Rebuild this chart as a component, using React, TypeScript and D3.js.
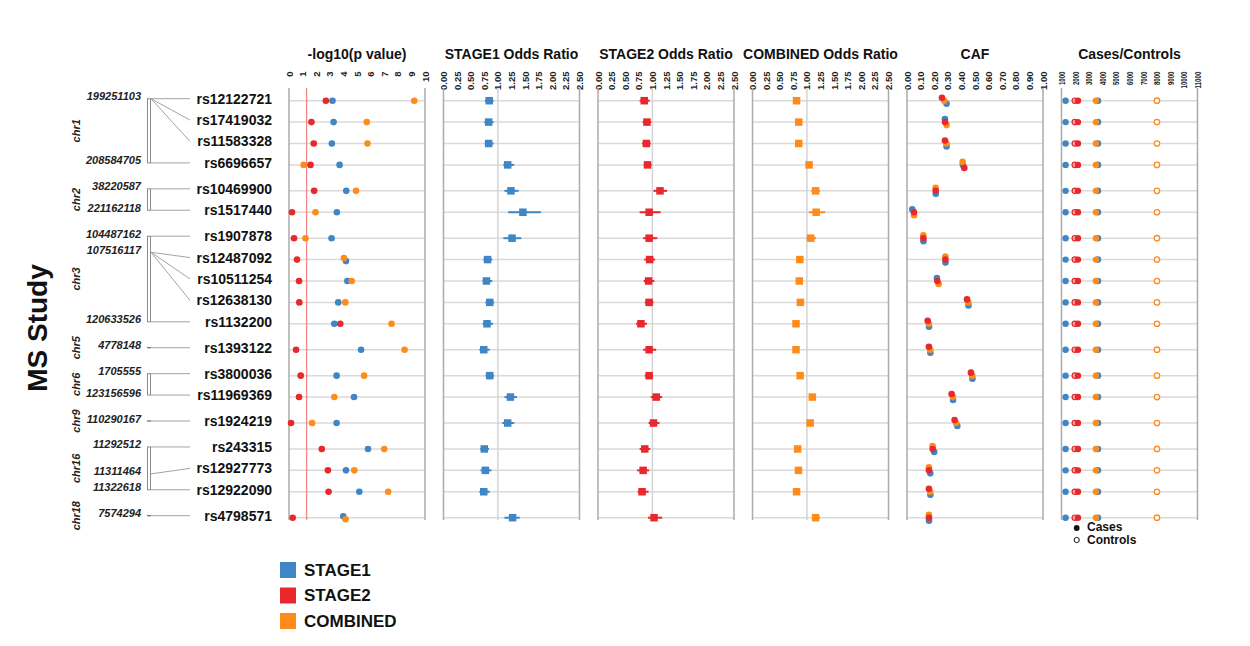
import React from 'react';
import * as d3 from 'd3';

// ---------- DATA ----------
const snps = ['rs12122721','rs17419032','rs11583328','rs6696657','rs10469900','rs1517440','rs1907878','rs12487092','rs10511254','rs12638130','rs1132200','rs1393122','rs3800036','rs11969369','rs1924219','rs243315','rs12927773','rs12922090','rs4798571'];
const chroms = ['chr1','chr1','chr1','chr1','chr2','chr2','chr3','chr3','chr3','chr3','chr3','chr5','chr6','chr6','chr9','chr16','chr16','chr16','chr18'];
// null = shares the previous labelled position (no label of its own)
const positions: (number | null)[] = [199251103, null, null, 208584705, 38220587, 221162118, 104487162, 107516117, null, null, 120633526, 4778148, 1705555, 123156596, 110290167, 11292512, 11311464, 11322618, 7574294];

const pStage1 = [3.2, 3.28, 3.15, 3.72, 4.21, 3.52, 3.13, 4.19, 4.29, 3.62, 3.33, 5.3, 3.5, 4.78, 3.5, 5.81, 4.19, 5.17, 3.99];
const pStage2 = [2.71, 1.65, 1.82, 1.58, 1.85, 0.22, 0.37, 0.59, 0.74, 0.76, 3.77, 0.52, 0.86, 0.74, 0.15, 2.41, 2.86, 2.91, 0.27];
const pCombined = [9.21, 5.72, 5.77, 1.08, 4.93, 1.95, 1.21, 4.04, 4.61, 4.14, 7.54, 8.5, 5.52, 3.33, 1.7, 7.0, 4.8, 7.29, 4.16];

const orStage1 = [0.84, 0.83, 0.83, 1.18, 1.24, 1.46, 1.26, 0.81, 0.79, 0.85, 0.80, 0.74, 0.85, 1.23, 1.18, 0.75, 0.77, 0.74, 1.27];
const loStage1 = [0.76, 0.75, 0.76, 1.10, 1.12, 1.19, 1.10, 0.735, 0.72, 0.77, 0.72, 0.66, 0.77, 1.12, 1.08, 0.675, 0.68, 0.66, 1.12];
const hiStage1 = [0.92, 0.92, 0.92, 1.30, 1.38, 1.79, 1.43, 0.895, 0.895, 0.93, 0.91, 0.85, 0.93, 1.35, 1.30, 0.835, 0.88, 0.85, 1.40];

const orStage2 = [0.85, 0.90, 0.89, 0.91, 1.14, 0.94, 0.94, 0.95, 0.93, 0.94, 0.79, 0.94, 0.94, 1.07, 1.02, 0.86, 0.83, 0.81, 1.03];
const loStage2 = [0.765, 0.82, 0.81, 0.84, 1.02, 0.765, 0.83, 0.85, 0.84, 0.86, 0.70, 0.83, 0.86, 0.97, 0.93, 0.765, 0.72, 0.73, 0.92];
const hiStage2 = [0.95, 0.98, 0.97, 0.985, 1.27, 1.15, 1.09, 1.05, 1.035, 1.02, 0.90, 1.07, 1.01, 1.18, 1.13, 0.96, 0.94, 0.93, 1.18];

const orCombined = [0.81, 0.85, 0.85, 1.04, 1.16, 1.17, 1.07, 0.87, 0.86, 0.88, 0.80, 0.80, 0.875, 1.10, 1.06, 0.83, 0.845, 0.81, 1.16];
const loCombined = [0.77, 0.81, 0.81, 0.99, 1.08, 1.035, 0.99, 0.83, 0.82, 0.84, 0.76, 0.76, 0.835, 1.05, 1.01, 0.79, 0.805, 0.77, 1.12];
const hiCombined = [0.85, 0.89, 0.89, 1.09, 1.24, 1.335, 1.17, 0.91, 0.90, 0.92, 0.84, 0.84, 0.915, 1.15, 1.11, 0.87, 0.885, 0.85, 1.24];

const cafStage1 = [0.291, 0.279, 0.291, 0.411, 0.2115, 0.039, 0.121, 0.283, 0.22, 0.452, 0.162, 0.172, 0.481, 0.339, 0.37, 0.2, 0.171, 0.172, 0.162];
const cafStage2 = [0.257, 0.28, 0.279, 0.421, 0.211, 0.051, 0.1205, 0.2825, 0.223, 0.441, 0.152, 0.161, 0.47, 0.328, 0.35, 0.189, 0.1615, 0.161, 0.1615];
const cafCombined = [0.274, 0.291, 0.29, 0.409, 0.2105, 0.052, 0.120, 0.282, 0.233, 0.451, 0.161, 0.171, 0.48, 0.338, 0.36, 0.188, 0.161, 0.171, 0.161];

const casesStage1 = [1300, 1300, 1300, 1300, 1300, 1300, 1300, 1300, 1300, 1300, 1300, 1300, 1300, 1300, 1300, 1300, 1300, 1300, 1300];
const controlsStage1 = [3680, 3680, 3680, 3680, 3680, 3680, 3680, 3680, 3680, 3680, 3680, 3680, 3680, 3680, 3680, 3680, 3680, 3680, 3680];
const casesStage2 = [2210, 2210, 2210, 2210, 2210, 2210, 2210, 2210, 2210, 2210, 2210, 2210, 2210, 2210, 2210, 2210, 2210, 2210, 2210];
const controlsStage2 = [1980, 1980, 1980, 1980, 1980, 1980, 1980, 1980, 1980, 1980, 1980, 1980, 1980, 1980, 1980, 1980, 1980, 1980, 1980];
const casesCombined = [3530, 3530, 3530, 3530, 3530, 3530, 3530, 3530, 3530, 3530, 3530, 3530, 3530, 3530, 3530, 3530, 3530, 3530, 3530];
const controlsCombined = [8020, 8020, 8020, 8020, 8020, 8020, 8020, 8020, 8020, 8020, 8020, 8020, 8020, 8020, 8020, 8020, 8020, 8020, 8020];

const panelTitles = ['-log10(p value)', 'STAGE1 Odds Ratio', 'STAGE2 Odds Ratio', 'COMBINED Odds Ratio', 'CAF', 'Cases/Controls'];
const pTicks = [0, 1, 2, 3, 4, 5, 6, 7, 8, 9, 10];
const orTicks = [0, 0.25, 0.5, 0.75, 1, 1.25, 1.5, 1.75, 2, 2.25, 2.5];
const cafTicks = [0, 0.1, 0.2, 0.3, 0.4, 0.5, 0.6, 0.7, 0.8, 0.9, 1];
const nTicks = [1000, 2000, 3000, 4000, 5000, 6000, 7000, 8000, 9000, 10000, 11000];
const legendLabels = ['STAGE1', 'STAGE2', 'COMBINED'];
const significance = -Math.log10(0.05);

// ---------- STYLE ----------
const BLUE = '#3e86c5';
const RED = '#e8282c';
const ORANGE = '#ff8c1a';
const FONT = "'Liberation Sans', Arial, Helvetica, sans-serif";
const GRID = '#dadada';
const FRAME = '#ababab';

type Pt = { x: number; color: string; i: number };
function dodge(pts: Pt[], thr = 3.5, step = 3) {
  const s = [...pts].sort((a, b) => a.x - b.x || a.i - b.i);
  const out: (Pt & { dy: number })[] = [];
  let cl: Pt[] = [];
  const flush = () => {
    const n = cl.length;
    cl.forEach((p, k) => out.push({ ...p, dy: (k - (n - 1) / 2) * step }));
    cl = [];
  };
  s.forEach((p) => {
    if (cl.length && p.x - cl[cl.length - 1].x >= thr) flush();
    cl.push(p);
  });
  flush();
  return out.sort((a, b) => a.i - b.i);
}

export default function App() {
  const W = 1250, H = 646;
  const groupNames = Array.from(new Set(chroms));
  const gi = chroms.map((c) => groupNames.indexOf(c));
  const GAP = 0.2126;
  const slots = snps.map((_, i) => i + gi[i] * GAP);
  const y = d3.scaleLinear().domain([0, d3.max(slots) as number]).range([100.7, 517.7]);
  const rowY = slots.map((s) => y(s));

  const panelX0 = 289, panelStep = 154.5, panelW = 136;
  const pTop = 88, pBot = 520;
  const domains: [number, number][] = [[0, 10], [0, 2.5], [0, 2.5], [0, 2.5], [0, 1], [1000, 11000]];
  const tickSets = [pTicks, orTicks, orTicks, orTicks, cafTicks, nTicks];
  const fmts = [d3.format('d'), d3.format('.2f'), d3.format('.2f'), d3.format('.2f'), d3.format('.2f'), d3.format('d')];
  const xs = domains.map((d, k) => d3.scaleLinear().domain(d).range([panelX0 + k * panelStep, panelX0 + k * panelStep + panelW]));

  // left-side bracket geometry
  const groups = groupNames.map((g) => {
    const idx = snps.map((_, i) => i).filter((i) => chroms[i] === g);
    const pos = idx.map((i) => positions[i]).filter((p) => p !== null) as number[];
    const top = rowY[idx[0]] - 2, bot = rowY[idx[idx.length - 1]] - 2;
    const sc = d3.scaleLinear().domain([d3.min(pos) as number, d3.max(pos) as number]).range([top, bot]);
    return { g, idx, top, bot, sc, single: idx.length === 1 };
  });
  const posY: number[] = [];
  groups.forEach((G) => {
    let last = G.top;
    G.idx.forEach((i) => {
      const p = positions[i];
      if (p !== null) last = G.single ? G.top : G.sc(p);
      posY[i] = last;
    });
  });

  const orSeries = [
    { or: orStage1, lo: loStage1, hi: hiStage1, color: BLUE },
    { or: orStage2, lo: loStage2, hi: hiStage2, color: RED },
    { or: orCombined, lo: loCombined, hi: hiCombined, color: ORANGE },
  ];

  const sq = 7.5;

  return (
    <div style={{ position: 'fixed', left: 0, top: 0, width: W, height: H, background: '#fff' }}>
      <svg width={W} height={H} style={{ display: 'block', fontFamily: FONT }}>
        <rect x={0} y={0} width={W} height={H} fill="#fff" />

        {/* MS Study */}
        <text transform={`translate(37,328) rotate(-90)`} textAnchor="middle" dominantBaseline="central" fontSize={28} fontWeight="bold" fill="#111">MS Study</text>

        {/* left annotation */}
        {groups.map((G) => (
          <g key={G.g}>
            <text transform={`translate(75.5,${(G.top + G.bot) / 2}) rotate(-90)`} textAnchor="middle" dominantBaseline="central" fontSize={11} fontWeight="bold" fontStyle="italic" fill="#222">{G.g}</text>
            {G.single ? (
              <line x1={147} x2={151} y1={G.top} y2={G.top} stroke="#666" strokeWidth={1.2} />
            ) : (
              <rect x={147.5} y={G.top} width={3} height={G.bot - G.top} fill="none" stroke="#8a8a8a" strokeWidth={1} />
            )}
          </g>
        ))}
        {snps.map((s, i) => (
          <g key={s}>
            <line x1={151} y1={posY[i]} x2={190} y2={rowY[i] - 2} stroke="#a3a3a3" strokeWidth={1} />
            <text x={272} y={rowY[i] + 3} textAnchor="end" fontSize={14} fontWeight="bold" fill="#111">{s}</text>
            {positions[i] !== null && (
              <text x={141} y={posY[i] + 1.5} textAnchor="end" fontSize={11} fontWeight="bold" fontStyle="italic" fill="#222">{positions[i]}</text>
            )}
          </g>
        ))}

        {/* panels */}
        {xs.map((x, k) => {
          const [d0, d1] = domains[k];
          const x0 = x(d0), x1 = x(d1);
          return (
            <g key={k}>
              <text x={(x0 + x1) / 2} y={59} textAnchor="middle" fontSize={14} fontWeight="bold" fill="#111">{panelTitles[k]}</text>
              {tickSets[k].map((t) => (
                <text key={t} transform={`translate(${x(t)},71.5) rotate(-90)`} textAnchor="end" dominantBaseline="central" fontSize={9.5} fontWeight="bold" fill="#222"
                  {...(k === 5 ? { textLength: fmts[k](t).length * 3.4, lengthAdjust: 'spacingAndGlyphs' } : {})}>{fmts[k](t)}</text>
              ))}
              {rowY.map((ry, i) => (
                <line key={i} x1={x0} x2={x1} y1={ry} y2={ry} stroke={GRID} strokeWidth={1.5} />
              ))}
              {k >= 1 && k <= 3 && <line x1={x(1)} x2={x(1)} y1={pTop} y2={pBot} stroke="#d4d4d4" strokeWidth={1.5} />}
              {k === 0 && <line x1={x(significance)} x2={x(significance)} y1={pTop} y2={pBot} stroke="#f06a6a" strokeWidth={1} />}
              <line x1={x0} x2={x0} y1={pTop} y2={pBot} stroke={FRAME} strokeWidth={1.5} />
              <line x1={x1} x2={x1} y1={pTop} y2={pBot} stroke={FRAME} strokeWidth={1.5} />
            </g>
          );
        })}

        {/* panel 1: -log10 p */}
        {snps.map((s, i) => {
          const pts = dodge([
            { x: xs[0](pStage1[i]), color: BLUE, i: 0 },
            { x: xs[0](pStage2[i]), color: RED, i: 1 },
            { x: xs[0](pCombined[i]), color: ORANGE, i: 2 },
          ]);
          return (
            <g key={s}>
              {pts.map((p) => (
                <circle key={p.i} cx={p.x} cy={rowY[i] + p.dy} r={3.3} fill={p.color} />
              ))}
            </g>
          );
        })}

        {/* odds ratio panels */}
        {orSeries.map((S, k) => (
          <g key={k}>
            {snps.map((s, i) => {
              const x = xs[k + 1];
              return (
                <g key={s}>
                  <line x1={x(S.lo[i])} x2={x(S.hi[i])} y1={rowY[i]} y2={rowY[i]} stroke={S.color} strokeWidth={2} />
                  <rect x={x(S.or[i]) - sq / 2} y={rowY[i] - sq / 2} width={sq} height={sq} fill={S.color} />
                </g>
              );
            })}
          </g>
        ))}

        {/* CAF */}
        {snps.map((s, i) => {
          const pts = dodge([
            { x: xs[4](cafStage1[i]), color: BLUE, i: 0 },
            { x: xs[4](cafCombined[i]), color: ORANGE, i: 1 },
            { x: xs[4](cafStage2[i]), color: RED, i: 2 },
          ]);
          return (
            <g key={s}>
              {pts.map((p) => (
                <circle key={p.i} cx={p.x} cy={rowY[i] + p.dy} r={3.3} fill={p.color} />
              ))}
            </g>
          );
        })}

        {/* cases / controls */}
        {snps.map((s, i) => {
          const x = xs[5];
          const ry = rowY[i];
          return (
            <g key={s}>
              <circle cx={x(casesStage1[i])} cy={ry} r={3.2} fill={BLUE} />
              <circle cx={x(controlsStage2[i])} cy={ry} r={2.7} fill="#f7b3b3" stroke={RED} strokeWidth={1.2} />
              <circle cx={x(casesStage2[i])} cy={ry} r={3.2} fill={RED} />
              <circle cx={x(controlsStage1[i])} cy={ry} r={2.7} fill={BLUE} stroke={BLUE} strokeWidth={1.2} />
              <circle cx={x(casesCombined[i])} cy={ry} r={3.2} fill={ORANGE} />
              <circle cx={x(controlsCombined[i])} cy={ry} r={2.7} fill="#fff" stroke={ORANGE} strokeWidth={1.3} />
            </g>
          );
        })}

        {/* cases/controls legend */}
        <circle cx={1076.7} cy={528} r={2.9} fill="#111" />
        <text x={1087} y={527} dominantBaseline="central" fontSize={12} fontWeight="bold" fill="#111">Cases</text>
        <circle cx={1076.7} cy={540} r={2.6} fill="#fff" stroke="#111" strokeWidth={1} />
        <text x={1087} y={539.5} dominantBaseline="central" fontSize={12} fontWeight="bold" fill="#111">Controls</text>

        {/* series legend */}
        {legendLabels.map((l, k) => (
          <g key={l}>
            <rect x={280} y={562 + k * 25.5} width={16} height={16} fill={[BLUE, RED, ORANGE][k]} />
            <text x={304} y={570 + k * 25.5} dominantBaseline="central" fontSize={17} fontWeight="bold" fill="#111">{l}</text>
          </g>
        ))}
      </svg>
    </div>
  );
}
